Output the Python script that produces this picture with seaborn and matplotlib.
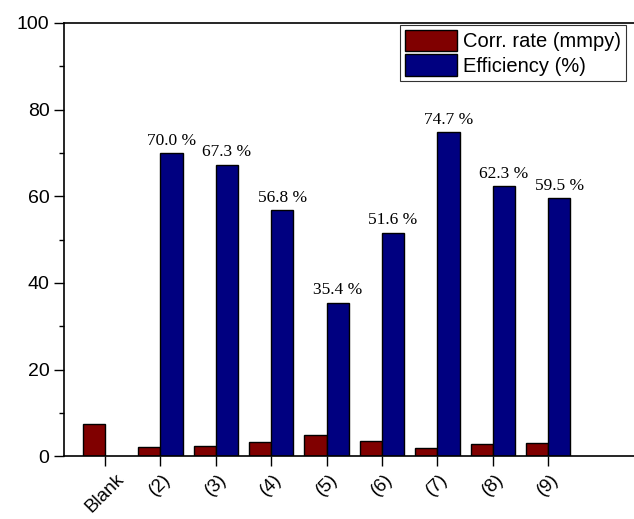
import pandas as pd
import numpy as np
import seaborn as sns
import matplotlib.pyplot as plt

samples = ['Blank', '(2)', '(3)', '(4)', '(5)', '(6)', '(7)', '(8)', '(9)']
corr_rate = [7.4, 2.2, 2.45, 3.2, 4.8, 3.5, 1.85, 2.8, 3.0]
efficiency = [np.nan, 70.0, 67.3, 56.8, 35.4, 51.6, 74.7, 62.3, 59.5]
series = ['Corr. rate (mmpy)', 'Efficiency (%)']

df = pd.DataFrame({
    'Sample': samples * 2,
    'Value': corr_rate + efficiency,
    'Series': [series[0]] * len(samples) + [series[1]] * len(samples),
})

sns.set_style('ticks')
plt.rcParams['font.family'] = ['Liberation Sans', 'DejaVu Sans']
plt.rcParams['text.color'] = 'black'

fig = plt.figure(figsize=(6.34, 5.19), dpi=100)
ax = fig.add_axes([0.101, 0.121, 0.899, 0.835])

sns.barplot(data=df, x='Sample', y='Value', hue='Series', order=samples,
            hue_order=series, palette=['#800000', '#000080'], saturation=1,
            edgecolor='black', linewidth=1.0, ax=ax, errorbar=None)

# efficiency labels
for i, v in enumerate(efficiency):
    if not np.isnan(v):
        ax.text(i + 0.2, v + 1.0, f'{v:.1f} %', ha='center', va='bottom',
                fontsize=12.5, family='Liberation Serif', color='black')

ax.set_xlim(-0.74, 9.55)
ax.set_ylim(0, 100)
ax.set_yticks([0, 20, 40, 60, 80, 100])
ax.set_yticks([10, 30, 50, 70, 90], minor=True)
ax.tick_params(axis='y', which='major', length=7, width=1, labelsize=14,
               color='black', labelcolor='black')
ax.tick_params(axis='y', which='minor', length=3.6, width=1, color='black')
ax.tick_params(axis='x', length=7, width=1, labelsize=13.5,
               color='black', labelcolor='black')
plt.setp(ax.get_xticklabels(), rotation=45, ha='center')
ax.set_xlabel('')
ax.set_ylabel('')

for side in ['left', 'bottom', 'top']:
    ax.spines[side].set_linewidth(1.2)
    ax.spines[side].set_color('black')
ax.spines['right'].set_visible(False)

leg = ax.legend(loc='upper left', bbox_to_anchor=(400 / 634, 494 / 519),
                bbox_transform=fig.transFigure, fontsize=14.5, frameon=True,
                fancybox=False, edgecolor='black', handlelength=2.6,
                handleheight=1.25, handletextpad=0.3, borderpad=0.25,
                labelspacing=0.15, borderaxespad=0)
leg.get_frame().set_linewidth(0.8)
for t in leg.get_texts():
    t.set_color('black')

fig.savefig('out.png', dpi=100)
